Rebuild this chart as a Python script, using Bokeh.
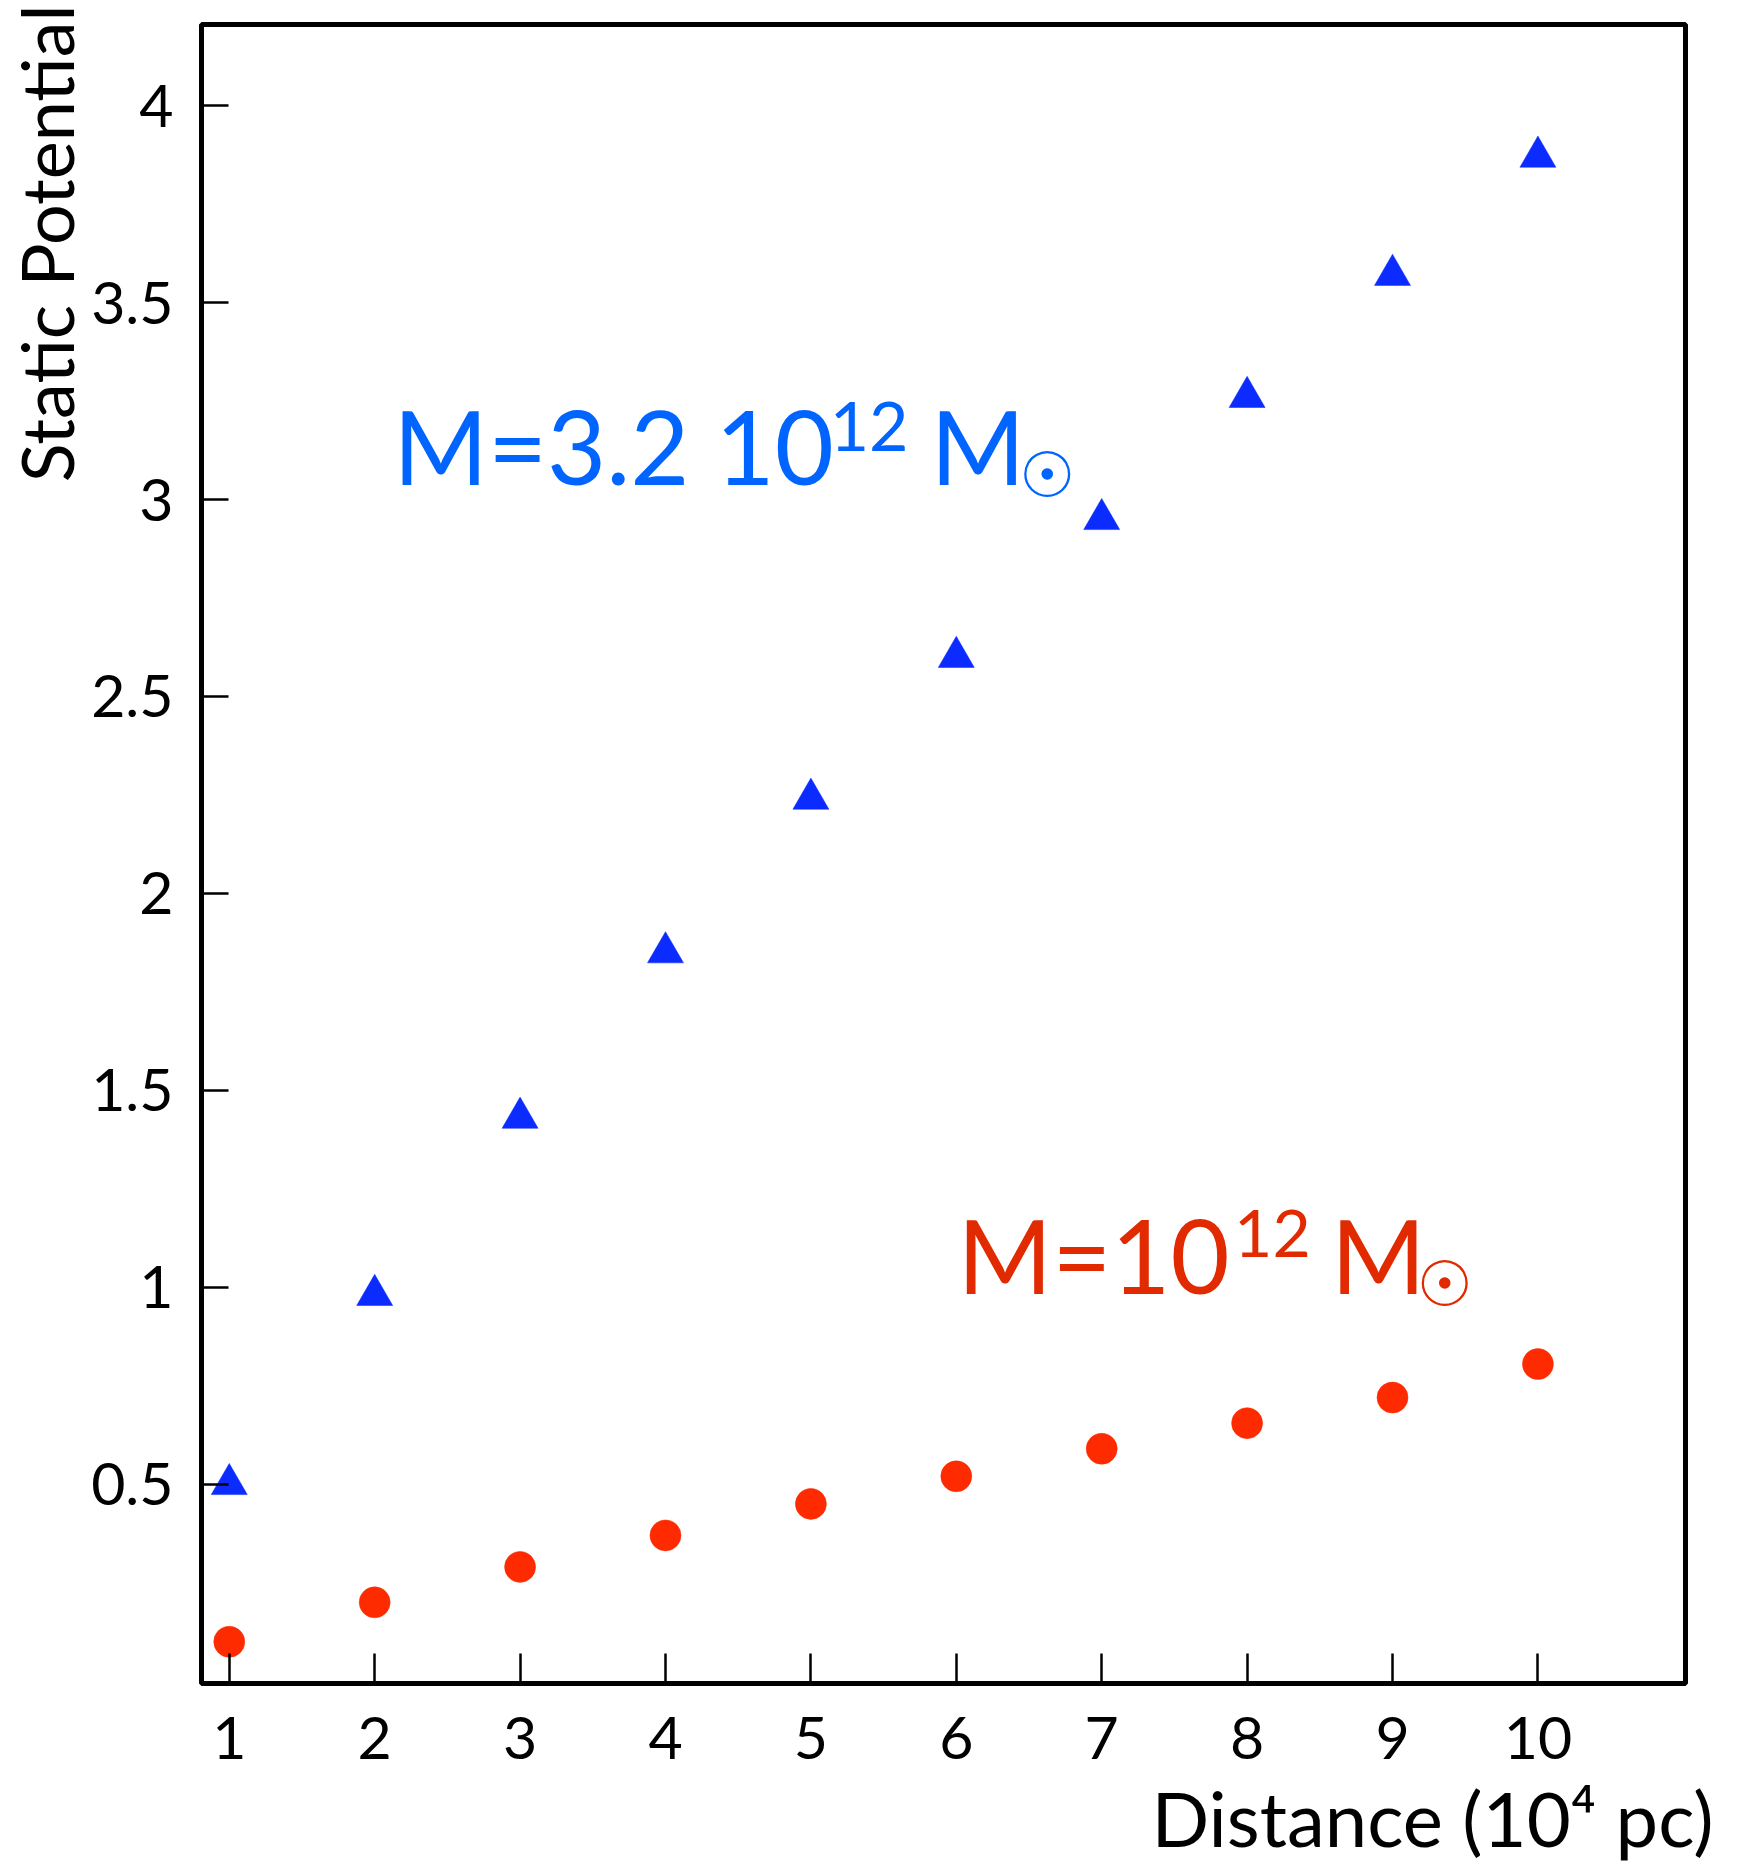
from bokeh.plotting import figure
from bokeh.models import Range1d, FixedTicker, Label, Title
from bokeh.embed import file_html
from bokeh.resources import INLINE

# ---- data ----
distance = [1, 2, 3, 4, 5, 6, 7, 8, 9, 10]
potential_heavy = [0.50, 0.98, 1.43, 1.85, 2.24, 2.60, 2.95, 3.26, 3.57, 3.87]   # M = 3.2e12 Msun
potential_light = [0.10, 0.20, 0.29, 0.37, 0.45, 0.52, 0.59, 0.655, 0.72, 0.805]  # M = 1e12 Msun
x_ticks = [1, 2, 3, 4, 5, 6, 7, 8, 9, 10]
y_ticks = [0.5, 1, 1.5, 2, 2.5, 3, 3.5, 4]
y_tick_labels = {0.5: "0.5", 1: "1", 1.5: "1.5", 2: "2", 2.5: "2.5", 3: "3", 3.5: "3.5", 4: "4"}

# ---- layout ----
W, H = 1738, 1870
BL, BT = 199, 24
FR, FB = 1685, 1683
BR, BB = W - FR, H - FB
FW, FH = FR - BL, FB - BT
X0, X1 = 0.809, 11.015
Y0, Y1 = -0.006, 4.206

def dx(px):
    return X0 + (px - BL) * (X1 - X0) / FW

def dy(py):
    return Y0 + (FB - py) * (Y1 - Y0) / FH

FONT = "Lato"
BLUE_TXT = "#0064ff"
RED_TXT = "#e12a00"

p = figure(width=W, height=H, output_backend="svg", toolbar_location=None,
           x_range=Range1d(X0, X1), y_range=Range1d(Y0, Y1),
           min_border_left=BL, min_border_right=BR, min_border_top=BT, min_border_bottom=BB)
p.background_fill_color = "white"
p.border_fill_color = "white"
p.grid.visible = False
p.outline_line_color = "black"
p.outline_line_width = 5
p.outline_line_alpha = 1.0

p.xaxis.ticker = FixedTicker(ticks=x_ticks)
p.yaxis.ticker = FixedTicker(ticks=y_ticks)
p.yaxis.major_label_overrides = y_tick_labels
for ax in (p.xaxis, p.yaxis):
    ax.axis_line_color = None
    ax.minor_tick_line_color = None
    ax.major_tick_out = 0
    ax.major_tick_line_width = 2.5
    ax.major_tick_line_color = "black"
    ax.major_label_text_font = FONT
    ax.major_label_text_font_size = "59px"
    ax.major_label_text_color = "black"
p.yaxis.major_tick_in = 27
p.xaxis.major_tick_in = 30
p.yaxis.major_label_standoff = 28
p.xaxis.major_label_standoff = 33

p.scatter(distance, potential_heavy, marker="triangle", size=36,
          fill_color="#0b2bff", line_color="#0b2bff", line_width=0.5)
p.scatter(distance, potential_light, marker="circle", size=31,
          fill_color="#ff2b00", line_color="#ff2b00", line_width=0.5)

def lab(text, px, py, size, color="black", font=FONT, align="left", baseline="alphabetic"):
    p.add_layout(Label(x=dx(px), y=dy(py), text=text, text_font=font,
                       text_font_size=f"{size}px", text_color=color,
                       text_align=align, text_baseline=baseline))

# blue annotation
lab("M=3.2 10", 391, 445, 102, BLUE_TXT)
lab("12", 828, 426, 68, BLUE_TXT)
lab("M", 929, 445, 102, BLUE_TXT)
lab("\u2609", 1046, 475, 63, BLUE_TXT, font="DejaVu Sans", align="center", baseline="middle")

# red annotation
lab("M=10", 956, 1254, 102, RED_TXT)
lab("12", 1233, 1233, 66, RED_TXT)
lab("M", 1330, 1254, 102, RED_TXT)
lab("\u2609", 1444, 1284, 63, RED_TXT, font="DejaVu Sans", align="center", baseline="middle")

# axis titles
p.add_layout(Title(text="Static Potential", align="right", text_font=FONT,
                   text_font_size="72px", text_font_style="normal", text_color="black",
                   standoff=0, offset=-20), "left")
p.add_layout(Title(text="Distance (10\u2074 pc)", align="right", text_font=FONT,
                   text_font_size="76px", text_font_style="normal", text_color="black",
                   standoff=16, offset=-28), "below")

open("out.html", "w").write(file_html(p, INLINE))
